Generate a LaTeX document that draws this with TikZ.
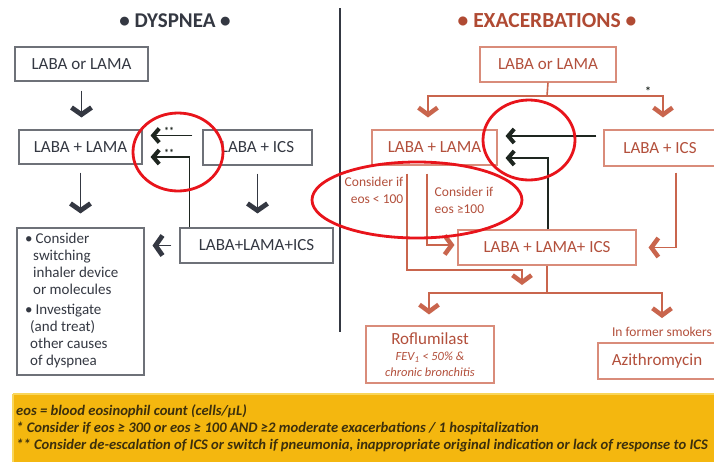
\documentclass[tikz,border=0pt]{standalone}
\usepackage{fontspec}
\setmainfont{Carlito}
\usetikzlibrary{arrows.meta,calc}
\definecolor{dk}{HTML}{343842}
\definecolor{dkbox}{HTML}{6E7178}
\definecolor{rl}{HTML}{C9654D}
\definecolor{rbox}{HTML}{D98C7A}
\definecolor{rtxt}{HTML}{B3503C}
\definecolor{rtitle}{HTML}{B04A33}
\definecolor{blk}{HTML}{1E2620}
\definecolor{yel}{HTML}{F4B70F}
\definecolor{yelb}{HTML}{F9D65A}
\definecolor{ftxt}{HTML}{3C2F0C}
\definecolor{anno}{HTML}{E8141B}
\tikzset{
  x=1pt, y=-1pt,
  lbox/.style={draw=dkbox, line width=1.1pt, text=dk, inner sep=0pt, font=\fontsize{17}{19}\selectfont},
  rbx/.style={draw=rbox, line width=1.1pt, text=rtxt, inner sep=0pt, font=\fontsize{17}{19}\selectfont},
  dchev/.style={draw=dk, line width=1.9pt, -{Straight Barb[length=7pt,width=20pt,line width=4.8pt]}},
  kchev/.style={draw=blk, line width=1.7pt, -{Straight Barb[length=6pt,width=14pt,line width=4pt]}},
  rline/.style={draw=rl, line width=1.6pt},
  rchev/.style={draw=rl, line width=1.6pt, -{Straight Barb[length=7pt,width=19pt,line width=4.5pt]}},
  stars/.style={text=blk, inner sep=0pt, font=\fontsize{10}{10}\selectfont\bfseries},
  smalltxt/.style={text=rtxt, inner sep=0pt, align=left, font=\fontsize{13.5}{17}\selectfont},
  annoell/.style={draw=anno, line width=2.8pt},
  foot/.style={text=ftxt, inner sep=0pt, anchor=west, font=\fontsize{14.6}{16}\selectfont\bfseries\itshape},
}
\begin{document}
\begin{tikzpicture}
\useasboundingbox (0,0) rectangle (714,461);
\fill[white] (0,0) rectangle (714,461);

% titles
\node[text=dk, font=\fontsize{21}{23}\selectfont\bfseries] (t1) at (175,21) {• DYSPNEA •};
\node[text=rtitle, font=\fontsize{21.5}{23}\selectfont\bfseries] (t2) at (547,21) {• EXACERBATIONS •};

% divider
\draw[dk, line width=2pt] (340,8) -- (340,332);

% left boxes
\node[lbox, minimum width=133, minimum height=34] (l1) at (81.5,64) {LABA or LAMA};
\node[lbox, minimum width=123, minimum height=34] (l2) at (80.5,147) {LABA + LAMA};
\node[lbox, minimum width=109, minimum height=35] (l3) at (257.5,147.5) {LABA + ICS};
\node[lbox, minimum width=153, minimum height=35] (l4) at (256.5,245.5) {LABA+LAMA+ICS};
\node[lbox, minimum width=127, minimum height=147] (l5) at (80.5,301.5) {};
\node[text=dk, inner sep=0pt, anchor=north west, align=left, font=\fontsize{15}{16.8}\selectfont] (l5t) at (25,233)
 {•\hspace{3pt}Consider\\
  \hspace{8pt}switching\\
  \hspace{8pt}inhaler device\\
  \hspace{8pt}or molecules\\[4pt]
  •\hspace{3pt}Investigate\\
  \hspace{5pt}(and treat)\\
  \hspace{5pt}other causes\\
  \hspace{5pt}of dyspnea};

% left connectors
\draw[dchev, shorten <=9pt, shorten >=12pt] (l1.south) -- (l1.south |- l2.north);
\draw[dchev, shorten <=8pt, shorten >=14pt] (l2.south) -- (l2.south |- l5.north);
\draw[dchev, shorten <=8pt, shorten >=14pt] (l3.south) -- (l3.south |- l4.north);
\draw[dchev, shorten <=8pt, shorten >=8pt] (l4.west) -- (l4.west -| l5.east);
\draw[kchev, shorten <=10pt, shorten >=8pt] ([yshift=12pt]l3.west) -- ([yshift=12pt]l3.west -| l2.east);
\draw[kchev, shorten >=8pt] ([xshift=10pt]l4.north west) |- ([yshift=-10pt]l2.east);
\node[stars] (s1) at (169,131) {**};
\node[stars] (s2) at (169,153) {**};

% right boxes
\node[rbx, minimum width=136, minimum height=35] (r1) at (548,64.5) {LABA or LAMA};
\node[rbx, minimum width=125, minimum height=35] (r2) at (434.5,147.5) {LABA + LAMA};
\node[rbx, minimum width=112, minimum height=36] (r3) at (660,148) {LABA + ICS};
\node[rbx, minimum width=178, minimum height=35] (r4) at (547,247.5) {LABA + LAMA+ ICS};
\node[rbx, minimum width=128, minimum height=57, align=center] (r5) at (430,354.5)
 {Roflumilast\\[-3pt]{\fontsize{12.5}{14}\selectfont\itshape FEV\textsubscript{1} < 50\% \&}\\[-3pt]{\fontsize{12.5}{14}\selectfont\itshape chronic bronchitis}};
\node[rbx, minimum width=118, minimum height=36] (r6) at (657,361) {Azithromycin};
\node[smalltxt] (sm) at (662,332) {In former smokers};
\node[text=blk, inner sep=0pt, font=\fontsize{12}{12}\selectfont\bfseries] (st) at (648,91) {*};
\node[smalltxt, align=right] (c1) at (374,190) {Consider if\\eos < 100};
\node[smalltxt] (c2) at (464,200) {Consider if\\eos ≥100};

% right connectors
\coordinate (sp1) at (547,96);
\coordinate (m2) at (547,293);
\coordinate (j1) at (407,270);
\draw[rline] (r1.south) -- (sp1);
\draw[rchev, shorten >=12pt] (sp1) -| ([xshift=-6.5pt]r2.north);
\draw[rchev, shorten >=12pt] (sp1) -| ([xshift=3pt]r3.north);
\draw[kchev, shorten <=7pt, shorten >=8pt] ([yshift=12pt]r3.west) -- ([yshift=12pt]r3.west -| r2.east);
\draw[kchev, shorten >=8pt] ([xshift=1pt]r4.north) |- ([yshift=-10.5pt]r2.east);
\draw[rchev, shorten <=8pt, shorten >=8pt] ([xshift=-27.5pt]r2.south) -- (j1) -| ([xshift=-25pt]m2);
\draw[rchev, shorten <=8pt, shorten >=3pt] ([xshift=-7.5pt]r2.south) |- ([yshift=2.5pt]r4.west);
\draw[rchev, shorten <=6pt, shorten >=12pt] ([xshift=16pt]r3.south) |- (r4.east);
\draw[rline] (r4.south) -- (m2);
\draw[rchev, shorten >=11pt] (m2) -| ([xshift=-1pt]r5.north);
\draw[rchev, shorten >=9pt] (m2) -| (sm.north);

% footer band
\fill[yel] (13,394) rectangle (716,463);
\draw[yelb, line width=2pt] (13,394) -- (716,394);
\draw[yelb, line width=2pt] (13,394) -- (13,463);
\node[foot] (f1) at (16,411) {eos = blood eosinophil count (cells/µL)};
\node[foot] (f2) at (16,428) {* Consider if eos ≥ 300 or eos ≥ 100 AND ≥2 moderate exacerbations / 1 hospitalization};
\node[foot] (f3) at (16,446) {** Consider de-escalation of ICS or switch if pneumonia, inappropriate original indication or lack of response to ICS};

% annotation ellipses
\draw[annoell] (178,152) ellipse [x radius=45, y radius=39];
\draw[annoell] (529,140) ellipse [x radius=46, y radius=40];
\draw[annoell] (417,200) ellipse [x radius=105, y radius=38];
\end{tikzpicture}
\end{document}
